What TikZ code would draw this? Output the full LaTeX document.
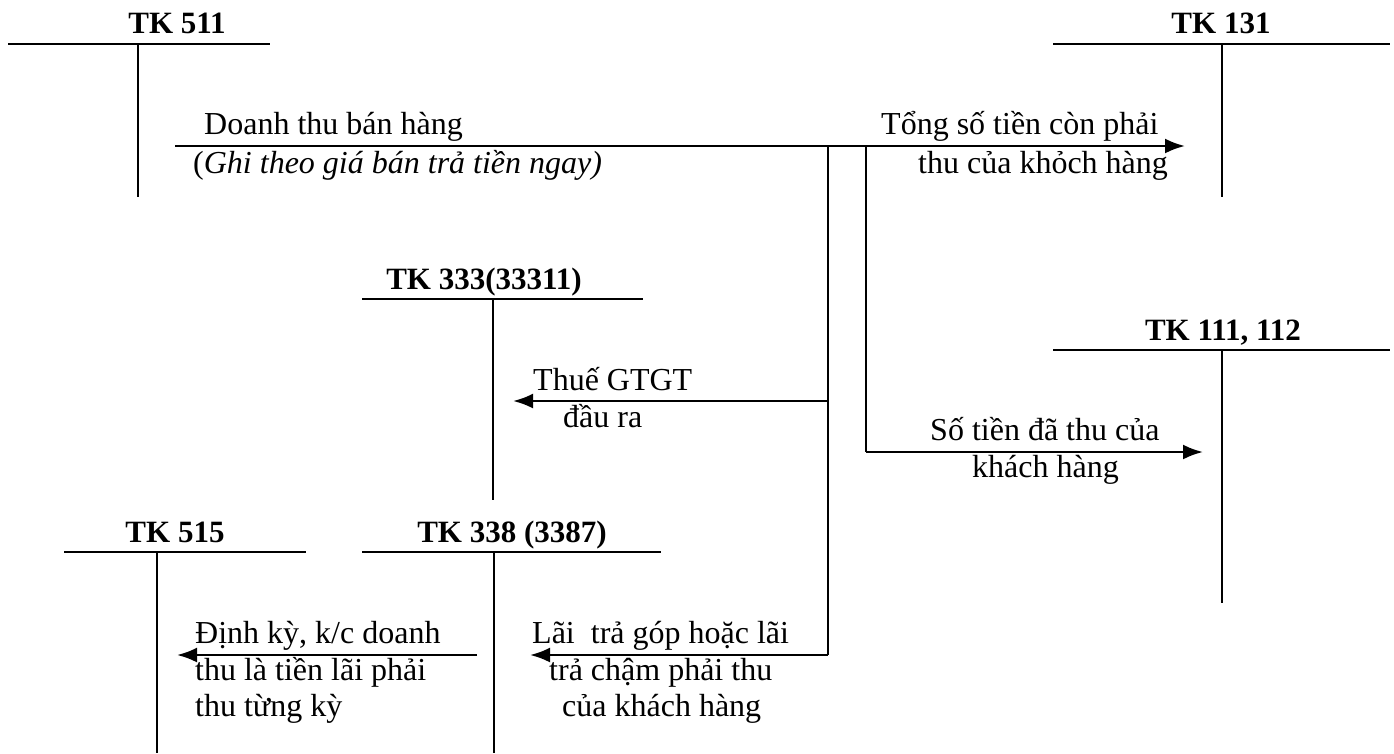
\documentclass[tikz,border=0pt]{standalone}
\usepackage{fontspec}
\setmainfont{Liberation Serif}
\usetikzlibrary{arrows.meta}

\begin{document}
\begin{tikzpicture}[x=1pt,y=-1pt,
	tk/.style={font=\fontsize{31}{36}\selectfont\bfseries, inner sep=0pt, anchor=base},
	txt/.style={font=\fontsize{32}{37}\selectfont, inner sep=0pt, anchor=base west},
	acct/.style={line width=2.2pt},
	leg/.style={line width=1.6pt},
	link/.style={line width=2pt},
	flow/.style={line width=2.5pt, -{Latex[length=20pt,width=15pt]}}]
		\useasboundingbox (0,0) rectangle (1394,753);
		
		% T ACCOUNTS
		\node[tk] (tk511) at (177,33) {TK 511};
		\draw[acct] (8,44) -- (270,44); \draw[leg] (138,44) -- (138,197);
		\node[tk] (tk131) at (1221,33) {TK 131};
		\draw[acct] (1053,44) -- (1390,44); \draw[leg] (1222,44) -- (1222,197);
		\node[tk] (tk333) at (484,289) {TK 333(33311)};
		\draw[acct] (362,299) -- (643,299); \draw[leg] (493,299) -- (493,500);
		\node[tk] (tk111) at (1223,340) {TK 111, 112};
		\draw[acct] (1053,350) -- (1390,350); \draw[leg] (1222,350) -- (1222,603);
		\node[tk] (tk515) at (175,542) {TK 515};
		\draw[acct] (64,552) -- (306,552); \draw[leg] (157,552) -- (157,753);
		\node[tk] (tk338) at (512,542) {TK 338 (3387)};
		\draw[acct] (362,552) -- (661,552); \draw[leg] (494,552) -- (494,753);
		
		% ARROWS
		\coordinate (s511) at (175,146);
		\coordinate (e131) at (1185,146);
		\coordinate (b1) at (828,146);
		\coordinate (b2) at (866,146);
		\coordinate (c333) at (828,401);
		\coordinate (e333) at (513,401);
		\coordinate (c338) at (828,655);
		\coordinate (e338) at (530,655);
		\coordinate (c111) at (866,452);
		\coordinate (e111) at (1203,452);
		\coordinate (s515) at (477,655);
		\coordinate (e515) at (177,655);
		\draw[flow] (s511) -- (e131);
		\draw[link] (b1) -- (c338);
		\draw[link] (b2) -- (c111);
		\draw[flow] (c333) -- (e333);
		\draw[flow] (c338) -- (e338);
		\draw[flow] (c111) -- (e111);
		\draw[flow] (s515) -- (e515);
		
		% LABELS
		\node[txt] (dt1) at (204,134) {Doanh thu bán hàng};
		\node[txt] (dt2) at (193,173) {(\textit{Ghi theo giá bán trả tiền ngay)}};
		\node[txt] (ts1) at (881,134) {Tổng số tiền còn phải};
		\node[txt] (ts2) at (918,173) {thu của khỏch hàng};
		\node[txt] (vat1) at (533,390) {Thuế GTGT};
		\node[txt] (vat2) at (563,427) {đầu ra};
		\node[txt] (st1) at (930,440) {Số tiền đã thu của};
		\node[txt] (st2) at (972,477) {khách hàng};
		\node[txt] (dk1) at (195,643) {Định kỳ, k/c doanh};
		\node[txt] (dk2) at (195,680) {thu là tiền lãi phải};
		\node[txt] (dk3) at (195,716) {thu từng kỳ};
		\node[txt] (lt1) at (532,643) {Lãi\ \ trả góp hoặc lãi};
		\node[txt] (lt2) at (549,680) {trả chậm phải thu};
		\node[txt] (lt3) at (562,716) {của khách hàng};
	\end{tikzpicture}
\end{document}
